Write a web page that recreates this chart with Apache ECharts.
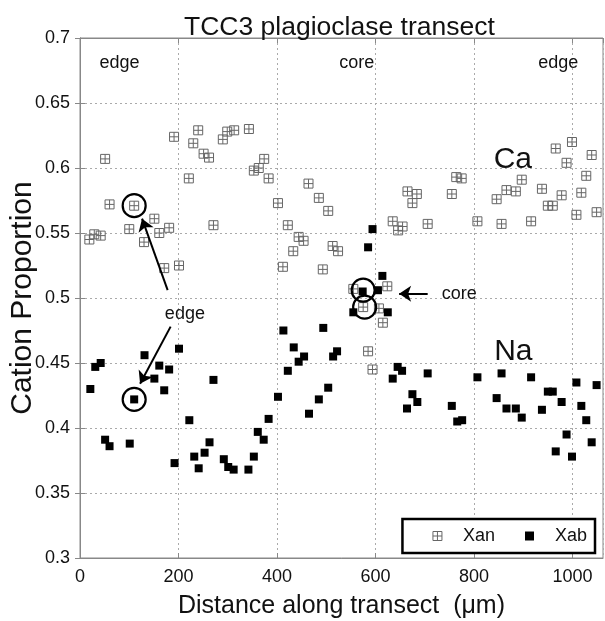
<!DOCTYPE html>
<html>
<head>
<meta charset="utf-8">
<script src="https://cdn.jsdelivr.net/npm/echarts@6/dist/echarts.min.js"></script>
<style>html,body{margin:0;padding:0;background:#fff}#c{width:605px;height:621px}</style>
</head>
<body>
<div id="c"></div>
<script>
// Xan (anorthite fraction) measurements
const anX = [19,29,42,51,60,100,110,130,151,161,171,181,191,201,221,230,240,251,262,271,290,299,313,343,353,363,374,383,402,412,422,433,444,454,464,485,493,504,513,524,555,575,585,594,607,615,624,635,646,655,665,675,684,706,755,764,775,807,846,856,866,885,897,916,938,950,960,966,978,988,999,1008,1018,1028,1039,1049];
const anY = [0.545,0.549,0.548,0.607,0.572,0.553,0.571,0.543,0.561,0.550,0.523,0.554,0.624,0.525,0.592,0.619,0.629,0.611,0.608,0.556,0.622,0.628,0.629,0.630,0.598,0.600,0.607,0.592,0.573,0.524,0.556,0.536,0.547,0.544,0.588,0.577,0.522,0.567,0.540,0.536,0.507,0.493,0.459,0.445,0.492,0.481,0.509,0.559,0.552,0.555,0.582,0.573,0.580,0.557,0.580,0.593,0.592,0.559,0.576,0.557,0.583,0.582,0.591,0.559,0.584,0.571,0.571,0.615,0.579,0.604,0.620,0.564,0.581,0.594,0.610,0.566];
// Xab (albite fraction) measurements
const abX = [21,31,42,51,60,101,110,131,151,161,171,181,192,201,222,232,241,253,263,271,292,301,312,342,353,361,373,383,402,413,422,434,444,455,465,485,494,504,514,522,555,574,585,594,605,614,625,635,645,654,664,675,685,706,755,766,776,807,846,856,866,885,897,916,938,950,960,966,978,988,999,1008,1018,1028,1039,1049];
const abY = [0.430,0.447,0.450,0.391,0.386,0.388,0.422,0.456,0.438,0.448,0.429,0.445,0.373,0.461,0.406,0.378,0.369,0.381,0.389,0.437,0.376,0.370,0.368,0.368,0.378,0.397,0.391,0.407,0.424,0.475,0.444,0.462,0.451,0.455,0.411,0.422,0.477,0.431,0.455,0.459,0.489,0.505,0.539,0.553,0.506,0.517,0.489,0.438,0.447,0.444,0.415,0.426,0.420,0.442,0.417,0.405,0.406,0.439,0.423,0.442,0.415,0.415,0.408,0.439,0.414,0.428,0.428,0.382,0.420,0.395,0.378,0.435,0.417,0.406,0.389,0.433];

const seriesNames = ['Xan', 'Xab'];
const titleText = 'TCC3 plagioclase transect';
const xName = 'Distance along transect  (\u03bcm)';
const yName = 'Cation Proportion';

// annotation texts and their anchor positions (data coordinates)
const noteTexts = ['edge', 'core', 'edge', 'Ca', 'Na', 'edge', 'core'];
const notePos = [[80,0.681],[562,0.681],[971,0.681],[879,0.606],[880,0.459],[213,0.488],[770,0.503]];
const noteSizes = [18,18,18,30,30,18,18];
// circled points
const circlePos = [[110,0.571],[110,0.422],[575,0.506],[578,0.493]];
// arrows [from, to]
const arrows = [
  [[178,0.506],[126,0.561]],
  [[184,0.478],[122,0.434]],
  [[706,0.5033],[648,0.5033]]
];

const crossBox = 'path://M0,0L10,0L10,10L0,10Z M5,0L5,10 M0,5L10,5';
const fontFam = '"Liberation Sans", Arial, Helvetica, sans-serif';

const chart = echarts.init(document.getElementById('c'), null, {renderer: 'canvas'});

const gridLine = {show: true, lineStyle: {color: '#aaa', type: [2, 3], width: 1}};
const yFmt = v => String(+v.toFixed(2));
const xFmt = v => String(v);

const option = {
  backgroundColor: '#fff',
  animation: false,
  textStyle: {fontFamily: fontFam},
  title: {
    text: titleText, left: 179, top: 9,
    textStyle: {fontSize: 26.5, fontWeight: 'normal', color: '#111', fontFamily: fontFam}
  },
  grid: {left: 80, right: 2, top: 38, bottom: 63, show: true, borderColor: '#888', borderWidth: 1,
         containLabel: false, outerBoundsMode: 'none'},
  xAxis: [{
    type: 'value', min: 0, max: 1062, interval: 200,
    name: xName, nameLocation: 'middle', nameGap: 36,
    nameTextStyle: {fontSize: 25, color: '#111', fontFamily: fontFam},
    axisLine: {show: true, lineStyle: {color: '#888'}},
    axisTick: {show: true, inside: true, length: 5, lineStyle: {color: '#888'}},
    axisLabel: {fontSize: 18, color: '#111', margin: 10, showMaxLabel: false, formatter: xFmt, fontFamily: fontFam},
    splitLine: gridLine
  }, {
    type: 'value', min: 0, max: 1062, interval: 200, position: 'top',
    axisLine: {show: true, lineStyle: {color: '#888'}},
    axisTick: {show: true, inside: true, length: 5, lineStyle: {color: '#888'}},
    axisLabel: {show: false}, splitLine: {show: false}
  }],
  yAxis: [{
    type: 'value', min: 0.3, max: 0.7, interval: 0.05,
    name: yName, nameLocation: 'middle', nameGap: 42, nameMoveOverlap: false,
    nameTextStyle: {fontSize: 30, color: '#111', fontFamily: fontFam},
    axisLine: {show: true, lineStyle: {color: '#888'}},
    axisTick: {show: true, inside: true, length: 5, lineStyle: {color: '#888'}},
    axisLabel: {fontSize: 18, color: '#111', margin: 10, formatter: yFmt, fontFamily: fontFam},
    splitLine: gridLine
  }, {
    type: 'value', min: 0.3, max: 0.7, interval: 0.05, position: 'right',
    axisLine: {show: true, lineStyle: {color: '#888'}},
    axisTick: {show: true, inside: true, length: 5, lineStyle: {color: '#888'}},
    axisLabel: {show: false}, splitLine: {show: false}
  }],
  legend: {
    data: [
      {name: seriesNames[0], icon: crossBox, itemStyle: {color: 'rgba(0,0,0,0)', borderColor: '#666', borderWidth: 1}},
      {name: seriesNames[1], icon: 'rect', itemStyle: {color: '#000'}}
    ],
    right: 10, bottom: 68,
    itemWidth: 9, itemHeight: 9, itemGap: 30,
    padding: [8, 8, 8, 30],
    borderColor: '#000', borderWidth: 2.5, backgroundColor: '#fff',
    textStyle: {fontSize: 18, color: '#111', padding: [0, 0, 0, 16], fontFamily: fontFam}
  },
  series: [
    {
      name: seriesNames[0], type: 'scatter', z: 3,
      symbol: crossBox, symbolSize: 9,
      itemStyle: {color: 'rgba(0,0,0,0)', borderColor: '#666', borderWidth: 1, opacity: 1},
      data: anX.map((x, i) => [x, anY[i]]),
      markPoint: {
        silent: true,
        symbol: 'circle', symbolSize: 23,
        itemStyle: {color: 'rgba(0,0,0,0)', borderColor: '#000', borderWidth: 2.2},
        label: {show: false},
        data: circlePos.map(p => ({coord: p}))
      },
      markLine: {
        silent: true, symbol: ['none', 'arrow'], symbolSize: 12,
        lineStyle: {color: '#000', width: 2, type: 'solid'},
        label: {show: false},
        data: arrows.map(a => [{coord: a[0]}, {coord: a[1]}])
      }
    },
    {
      name: seriesNames[1], type: 'scatter', z: 3,
      symbol: 'rect', symbolSize: 8,
      itemStyle: {color: '#000', opacity: 1},
      data: abX.map((x, i) => [x, abY[i]]),
      markPoint: {
        silent: true,
        symbol: 'circle', symbolSize: 1,
        itemStyle: {color: 'rgba(0,0,0,0)'},
        data: noteTexts.map((t, i) => ({
          coord: notePos[i], value: t,
          label: {show: true, position: 'inside', formatter: t, fontSize: noteSizes[i], color: '#111', fontFamily: fontFam}
        }))
      }
    }
  ]
};
chart.setOption(option);
</script>
</body>
</html>
